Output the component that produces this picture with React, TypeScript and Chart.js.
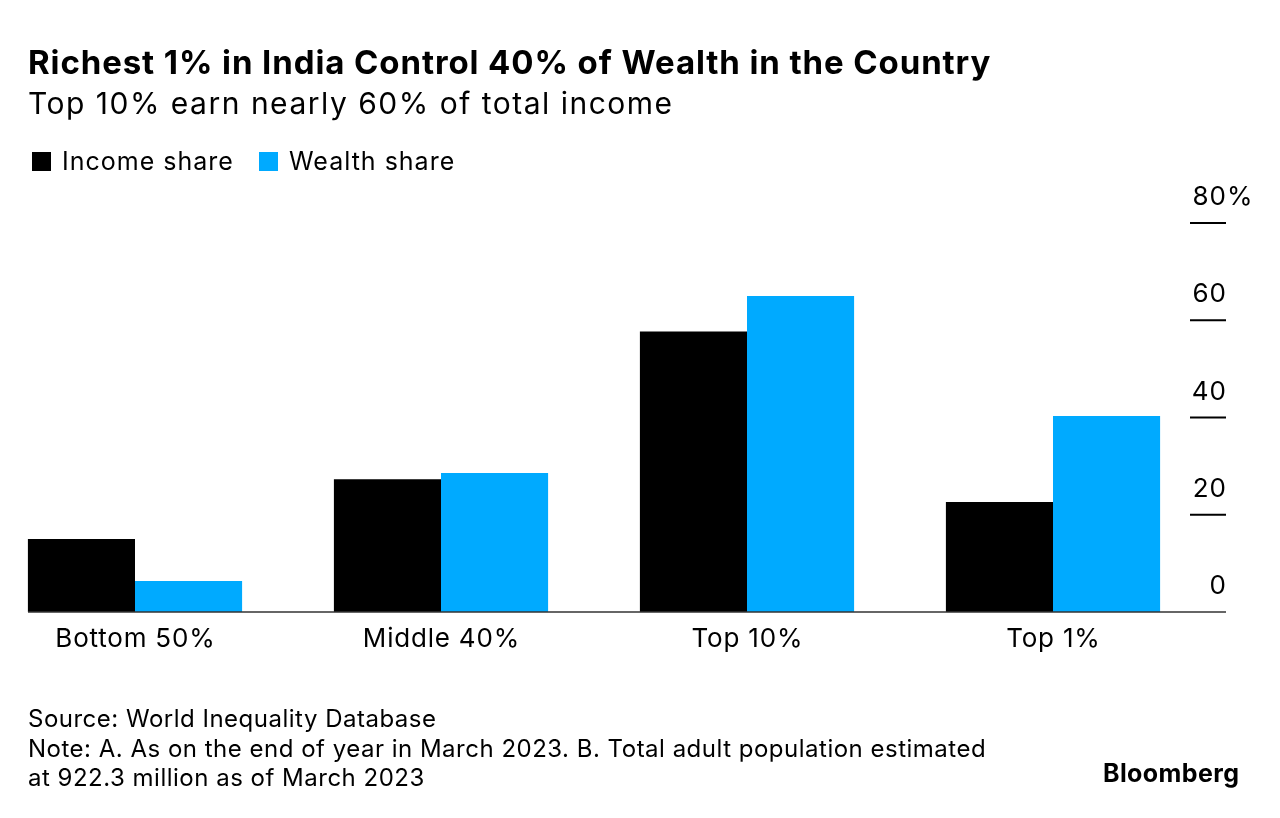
import React, { useEffect, useRef } from "react";
import { Chart, registerables } from "chart.js";

Chart.register(...registerables);

const categories = ["Bottom 50%", "Middle 40%", "Top 10%", "Top 1%"];
const incomeShare = [15.0, 27.3, 57.7, 22.6];
const wealthShare = [6.4, 28.6, 65.0, 40.3];
const yTickValues = [0, 20, 40, 60, 80];
const yTickLabels = ["0", "20", "40", "60", "80"];

const FONT = "Inter, 'Liberation Sans', Arial, sans-serif";

const axesPlugin = {
  id: "customAxes",
  afterDatasetsDraw(chart: any) {
    const ctx = chart.ctx;
    const y = chart.scales.y;
    const x = chart.scales.x;
    const y0 = y.getPixelForValue(0);
    ctx.save();
    // baseline
    ctx.strokeStyle = "#333333";
    ctx.lineWidth = 1.5;
    ctx.beginPath();
    ctx.moveTo(28, y0);
    ctx.lineTo(1226, y0);
    ctx.stroke();
    // right-hand value axis
    ctx.strokeStyle = "#000000";
    ctx.lineWidth = 2;
    ctx.fillStyle = "#000000";
    ctx.font = `26px ${FONT}`;
    (ctx as any).letterSpacing = "1px";
    ctx.textBaseline = "alphabetic";
    yTickValues.forEach((v, i) => {
      const py = y.getPixelForValue(v);
      if (v !== 0) {
        ctx.beginPath();
        ctx.moveTo(1190, py);
        ctx.lineTo(1226, py);
        ctx.stroke();
      }
      ctx.textAlign = "right";
      ctx.fillText(yTickLabels[i], 1227, py - 18);
      if (i === yTickValues.length - 1) {
        ctx.textAlign = "left";
        ctx.fillText("%", 1227, py - 18);
      }
    });
    // category labels
    ctx.font = `26px ${FONT}`;
    (ctx as any).letterSpacing = "0.8px";
    ctx.textAlign = "center";
    ctx.textBaseline = "middle";
    categories.forEach((c, i) => {
      ctx.fillText(c, x.getPixelForValue(i) + 0.4, y0 + 27);
    });
    ctx.restore();
  },
};

export default function App() {
  const ref = useRef<HTMLCanvasElement>(null);
  useEffect(() => {
    if (!ref.current) return;
    const chart = new Chart(ref.current, {
      type: "bar",
      data: {
        labels: categories,
        datasets: [
          {
            label: "Income share",
            data: incomeShare,
            backgroundColor: "#000000",
            categoryPercentage: 0.7,
            barPercentage: 1.0,
            clip: false as any,
          },
          {
            label: "Wealth share",
            data: wealthShare,
            backgroundColor: "#00aaff",
            categoryPercentage: 0.7,
            barPercentage: 1.0,
            clip: false as any,
          },
        ],
      },
      options: {
        responsive: false,
        animation: false,
        devicePixelRatio: 1,
        layout: { padding: { left: 135, right: 227, top: 223, bottom: 206 } },
        plugins: { legend: { display: false }, tooltip: { enabled: false } },
        scales: {
          x: {
            display: false,
            offset: false,
          },
          y: {
            display: false,
            min: 0,
            max: 80,
          },
        },
      },
      plugins: [axesPlugin],
    });
    return () => chart.destroy();
  }, []);

  const txt: React.CSSProperties = { position: "absolute", whiteSpace: "nowrap", color: "#000", fontFamily: FONT };
  return (
    <div style={{ position: "absolute", left: 0, top: 0, width: 1280, height: 818, background: "#fff", overflow: "hidden" }}>
      <canvas ref={ref} width={1280} height={818} style={{ position: "absolute", left: 0, top: 0, width: 1280, height: 818 }} />
      <div style={{ ...txt, left: 28, top: 43, fontSize: 33, fontWeight: 700, lineHeight: "38px", letterSpacing: "0.9px" }}>
        Richest 1% in India Control 40% of Wealth in the Country
      </div>
      <div style={{ ...txt, left: 28, top: 85, fontSize: 30, lineHeight: "36px", letterSpacing: "1.5px" }}>
        Top 10% earn nearly 60% of total income
      </div>
      <div style={{ ...txt, left: 32, top: 152, width: 19, height: 19, background: "#000" }} />
      <div style={{ ...txt, left: 62, top: 146, fontSize: 25, lineHeight: "31px", letterSpacing: "1px" }}>Income share</div>
      <div style={{ ...txt, left: 259, top: 152, width: 19, height: 19, background: "#00aaff" }} />
      <div style={{ ...txt, left: 289, top: 146, fontSize: 25, lineHeight: "31px", letterSpacing: "1px" }}>Wealth share</div>
      <div style={{ ...txt, left: 28, top: 704, fontSize: 24, lineHeight: "29.5px", letterSpacing: "0.5px" }}>
        Source: World Inequality Database
        <br />
        Note: A. As on the end of year in March 2023. B. Total adult population estimated
        <br />
        at 922.3 million as of March 2023
      </div>
      <div style={{ ...txt, left: 1103, top: 758, fontSize: 25, fontWeight: 700, lineHeight: "30px", letterSpacing: "0.4px" }}>Bloomberg</div>
    </div>
  );
}
